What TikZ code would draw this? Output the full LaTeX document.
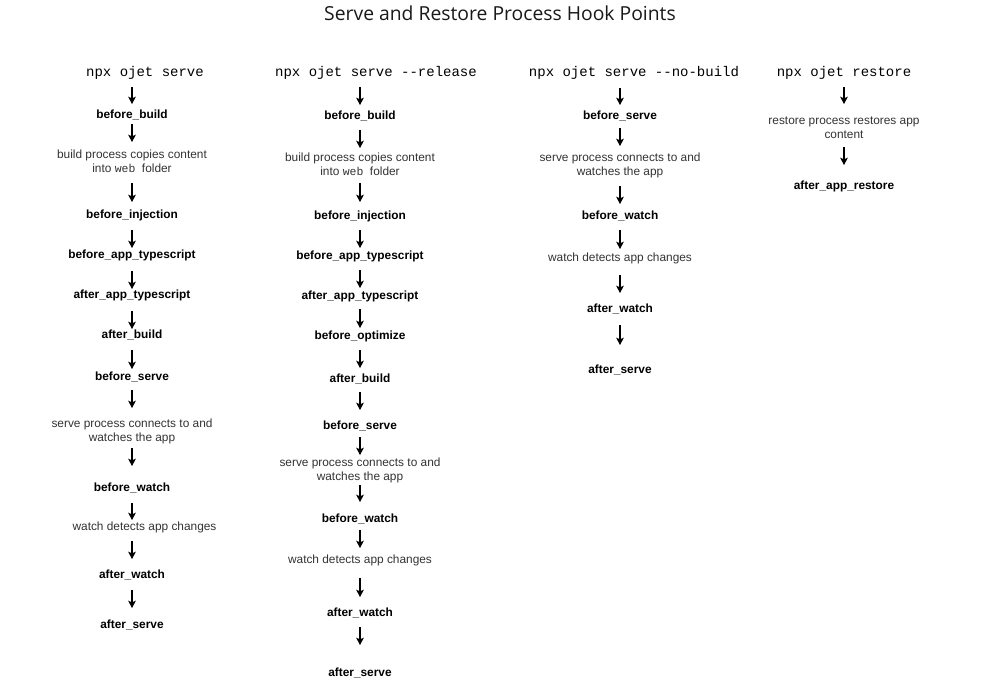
\documentclass[tikz,border=0pt]{standalone}
\usepackage{fontspec}
\setmainfont{Liberation Sans}
\newfontfamily\monofont{Liberation Mono}
\newfontfamily\titlefont{Open Sans}
\usetikzlibrary{arrows.meta}
\definecolor{txtgray}{HTML}{333333}
\tikzset{
  hook/.style={font=\fontsize{8.9}{10.5}\selectfont\bfseries, text=black, inner sep=0pt, text height=6.4pt, text depth=0pt, align=center},
  proc/.style={font=\fontsize{8.9}{10.5}\selectfont, text=txtgray, inner sep=0pt, text height=6.4pt, text depth=0pt, align=center},
  cmd/.style={font=\monofont\fontsize{10.5}{12}\selectfont, text=black, inner sep=0pt, text height=7pt, text depth=0pt},
  arr/.style={-{Stealth[length=5.5pt,width=5.8pt,inset=1.3pt]}, line width=0.8pt, black},
  ttl/.style={font=\titlefont\fontsize{14.5}{16}\selectfont, text=black!90, inner sep=0pt, text height=10pt, text depth=0pt}
}
\newcommand{\flowarr}[4]{%
  \coordinate (#1s) at (#2,#3);
  \coordinate (#1e) at (#2,#4);
  \draw[arr] (#1s) -- (#1e);}
\newcommand{\webtt}{{\monofont\fontsize{8.6}{10.5}\selectfont web}}
\begin{document}
\begin{tikzpicture}[x=0.75pt,y=-0.75pt]
\useasboundingbox (0,0) rectangle (989,687);
\node[ttl] (title) at (500,14) {Serve and Restore Process Hook Points};

% column 1 (two-line nodes are placed by their last line)
\node[cmd]  (a0)  at (145,72)    {npx ojet serve};
\node[hook] (a1)  at (132,114.5) {before\_build};
\node[proc] (a2)  at (132,168)   {build process copies content\\into \webtt\ \ folder};
\node[hook] (a3)  at (132,214.5) {before\_injection};
\node[hook] (a4)  at (132,254.5) {before\_app\_typescript};
\node[hook] (a5)  at (132,294.5) {after\_app\_typescript};
\node[hook] (a6)  at (132,334.5) {after\_build};
\node[hook] (a7)  at (132,376.5) {before\_serve};
\node[proc] (a8)  at (132,437)   {serve process connects to and\\watches the app};
\node[hook] (a9)  at (132,487.5) {before\_watch};
\node[proc] (a10) at (144.5,526.5) {watch detects app changes};
\node[hook] (a11) at (132,574.5) {after\_watch};
\node[hook] (a12) at (132,624)   {after\_serve};
\flowarr{aa1}{132}{87}{104}
\flowarr{aa2}{132}{124}{142}
\flowarr{aa3}{132}{183}{202}
\flowarr{aa4}{132}{230}{248}
\flowarr{aa5}{132}{271}{289}
\flowarr{aa6}{132}{311}{329}
\flowarr{aa7}{132}{350}{369}
\flowarr{aa8}{132}{390}{408}
\flowarr{aa9}{132}{448}{466}
\flowarr{aa10}{132}{503}{520}
\flowarr{aa11}{132}{541}{559}
\flowarr{aa12}{132}{590}{608}

% column 2
\node[cmd]  (b0)  at (376,72)  {npx ojet serve --release};
\node[hook] (b1)  at (360,115) {before\_build};
\node[proc] (b2)  at (360,171) {build process copies content\\into \webtt\ \ folder};
\node[hook] (b3)  at (360,215) {before\_injection};
\node[hook] (b4)  at (360,255) {before\_app\_typescript};
\node[hook] (b5)  at (360,295) {after\_app\_typescript};
\node[hook] (b6)  at (360,335) {before\_optimize};
\node[hook] (b7)  at (360,378) {after\_build};
\node[hook] (b8)  at (360,425) {before\_serve};
\node[proc] (b9)  at (360,476) {serve process connects to and\\watches the app};
\node[hook] (b10) at (360,518) {before\_watch};
\node[proc] (b11) at (360,559) {watch detects app changes};
\node[hook] (b12) at (360,612) {after\_watch};
\node[hook] (b13) at (360,672) {after\_serve};
\flowarr{ba1}{360}{87}{105}
\flowarr{ba2}{360}{130}{148}
\flowarr{ba3}{360}{183}{202}
\flowarr{ba4}{360}{230}{248}
\flowarr{ba5}{360}{270}{288}
\flowarr{ba6}{360}{309}{328}
\flowarr{ba7}{360}{350}{368}
\flowarr{ba8}{360}{392}{410}
\flowarr{ba9}{360}{437}{455}
\flowarr{ba10}{360}{485}{502}
\flowarr{ba11}{360}{530}{548}
\flowarr{ba12}{360}{578}{597}
\flowarr{ba13}{360}{627}{645}

% column 3
\node[cmd]  (c0) at (634,72)  {npx ojet serve --no-build};
\node[hook] (c1) at (620,115) {before\_serve};
\node[proc] (c2) at (620,171) {serve process connects to and\\watches the app};
\node[hook] (c3) at (620,215) {before\_watch};
\node[proc] (c4) at (620,257) {watch detects app changes};
\node[hook] (c5) at (620,308) {after\_watch};
\node[hook] (c6) at (620,369) {after\_serve};
\flowarr{ca1}{620}{88}{105}
\flowarr{ca2}{620}{128}{146}
\flowarr{ca3}{620}{186}{204}
\flowarr{ca4}{620}{230}{249}
\flowarr{ca5}{620}{275}{293}
\flowarr{ca6}{620}{325}{345}

% column 4
\node[cmd]  (d0) at (844,72)  {npx ojet restore};
\node[proc] (d1) at (844,134) {restore process restores app\\content};
\node[hook] (d2) at (844,185) {after\_app\_restore};
\flowarr{da1}{844}{87}{104}
\flowarr{da2}{844}{147}{165}
\end{tikzpicture}
\end{document}
